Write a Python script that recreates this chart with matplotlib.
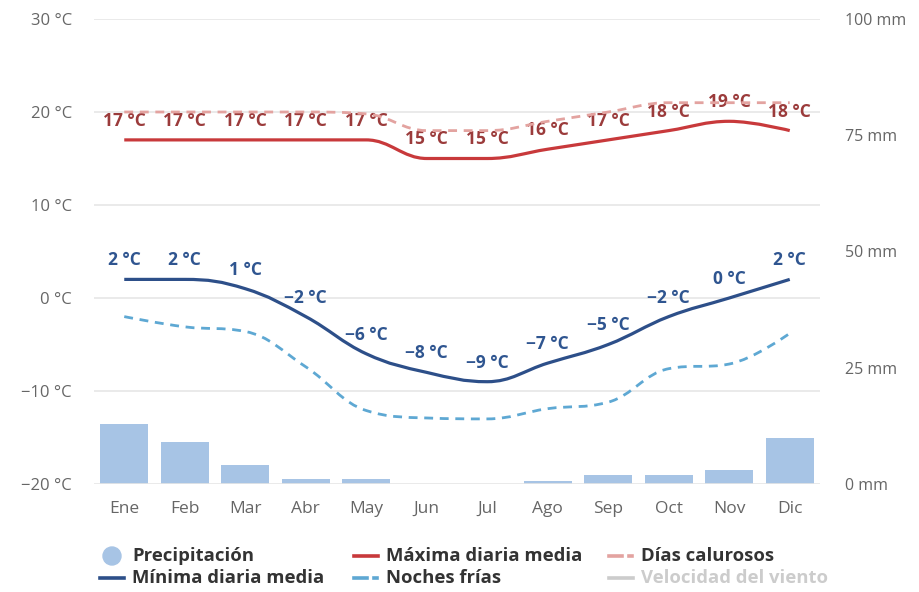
import numpy as np
import matplotlib.pyplot as plt
from matplotlib.path import Path
from matplotlib.patches import PathPatch, Ellipse
from matplotlib.lines import Line2D

plt.rcParams['font.family'] = ['Open Sans', 'DejaVu Sans']

meses = ["Ene", "Feb", "Mar", "Abr", "May", "Jun", "Jul", "Ago", "Sep", "Oct", "Nov", "Dic"]
maxima = [17, 17, 17, 17, 17, 15, 15, 16, 17, 18, 19, 18]
minima = [2, 2, 1, -2, -6, -8, -9, -7, -5, -2, 0, 2]
dias_calurosos = [20, 20, 20, 20, 19.8, 18, 18, 19, 20, 21, 21, 21]
noches_frias = [-2, -3.1, -3.6, -7.4, -12.1, -12.9, -13, -11.9, -11.2, -7.6, -7.1, -3.8]
precipitacion = [13, 9, 4, 1, 1, 0, 0, 0.7, 2, 2, 3, 10]

temp_ticks = [-20, -10, 0, 10, 20, 30]
mm_ticks = [0, 25, 50, 75, 100]

ROJO = "#c8393b"
ROJO_TXT = "#9b3b3b"
AZUL = "#2d4f89"
AZUL_TXT = "#2f5590"
CELESTE = "#5ea8d3"
ROSA = "#e3a3a0"
BARRA = "#a7c4e5"
GRIS = "#666666"


def spline_path(xs, ys, smoothing=1.5):
    # cubic bezier spline through every point (same control-point rule as Highcharts)
    xs = list(map(float, xs))
    ys = list(map(float, ys))
    n = len(xs)
    left = [None] * n
    right = [None] * n
    for i in range(1, n - 1):
        px, py = xs[i], ys[i]
        lx, ly = xs[i - 1], ys[i - 1]
        nx, ny = xs[i + 1], ys[i + 1]
        d = smoothing + 1
        lcx, lcy = (smoothing * px + lx) / d, (smoothing * py + ly) / d
        rcx, rcy = (smoothing * px + nx) / d, (smoothing * py + ny) / d
        corr = (rcy - lcy) * (rcx - px) / (rcx - lcx) + py - rcy
        lcy += corr
        rcy += corr
        if lcy > ly and lcy > py:
            lcy = max(ly, py)
            rcy = 2 * py - lcy
        elif lcy < ly and lcy < py:
            lcy = min(ly, py)
            rcy = 2 * py - lcy
        if rcy > ny and rcy > py:
            rcy = max(ny, py)
            lcy = 2 * py - rcy
        elif rcy < ny and rcy < py:
            rcy = min(ny, py)
            lcy = 2 * py - rcy
        left[i] = (lcx, lcy)
        right[i] = (rcx, rcy)
    verts = [(xs[0], ys[0])]
    codes = [Path.MOVETO]
    for i in range(1, n):
        c1 = right[i - 1] if right[i - 1] else (xs[i - 1], ys[i - 1])
        c2 = left[i] if left[i] else (xs[i], ys[i])
        verts += [c1, c2, (xs[i], ys[i])]
        codes += [Path.CURVE4] * 3
    return Path(verts, codes)


x = np.arange(len(meses))

fig = plt.figure(figsize=(9.2, 5.92), dpi=100)
ax = fig.add_axes([94 / 920, 1 - 484 / 592, 726 / 920, 465 / 592])
ax2 = ax.twinx()

# precipitation bars on the right (mm) axis
ax2.bar(x, precipitacion, width=0.79, color=BARRA, zorder=1)
ax2.set_ylim(0, 100)
ax2.set_yticks(mm_ticks)
ax2.set_yticklabels([f"{v} mm" for v in mm_ticks])
ax2.tick_params(axis="y", length=0, pad=18, labelsize=11.5, labelcolor=GRIS)
for s in ax2.spines.values():
    s.set_visible(False)

ax.set_zorder(ax2.get_zorder() + 1)
ax.patch.set_visible(False)

ax.set_xlim(-0.5, 11.5)
ax.set_ylim(-20, 30)
ax.set_yticks(temp_ticks)
ax.set_yticklabels([f"{v} °C".replace("-", "\u2212") for v in temp_ticks])
ax.set_xticks(x)
ax.set_xticklabels(meses)
ax.tick_params(axis="y", length=0, pad=16, labelsize=12, labelcolor=GRIS)
ax.tick_params(axis="x", length=0, pad=12, labelsize=12.5, labelcolor=GRIS)
for t in ax.get_yticks():
    ax.axhline(t, color="#e6e6e6", lw=1.2, zorder=0)
for s in ax.spines.values():
    s.set_visible(False)

# temperature curves
series = [
    (noches_frias, CELESTE, (0, (3.2, 2.4)), 2.0, 2),
    (minima, AZUL, "-", 2.3, 3),
    (maxima, ROJO, "-", 2.3, 3),
    (dias_calurosos, ROSA, (0, (3.2, 2.4)), 2.0, 5),
]
for vals, col, ls, lw, z in series:
    p = PathPatch(spline_path(x, vals), fill=False, edgecolor=col, lw=lw,
                  linestyle=ls, capstyle="butt", zorder=z)
    ax.add_patch(p)

# value labels above the max / min points
for xi, v in zip(x, maxima):
    ax.annotate(f"{v} °C", (xi, v), xytext=(0, 19), textcoords="offset pixels",
                ha="center", va="center", fontsize=12.5, fontweight="bold",
                color=ROJO_TXT, zorder=4)
for xi, v in zip(x, minima):
    ax.annotate(f"{v} °C".replace("-", "\u2212"), (xi, v), xytext=(0, 19),
                textcoords="offset pixels", ha="center", va="center",
                fontsize=12.5, fontweight="bold", color=AZUL_TXT, zorder=4)

# legend, three columns under the chart
def fx(px):
    return px / 920


def fy(py):
    return 1 - py / 592


entradas = [
    ("Precipitación", "dot", BARRA, 112, 556, "#333333"),
    ("Mínima diaria media", "line", AZUL, 112, 578, "#333333"),
    ("Máxima diaria media", "line", ROJO, 366, 556, "#333333"),
    ("Noches frías", "dash", CELESTE, 366, 578, "#333333"),
    ("Días calurosos", "dash", ROSA, 621, 556, "#333333"),
    ("Velocidad del viento", "line", "#cccccc", 621, 578, "#cccccc"),
]
for texto, tipo, col, cx, cy, tcol in entradas:
    if tipo == "dot":
        fig.patches.append(Ellipse((fx(cx), fy(cy)), 18 / 920, 18 / 592,
                                   transform=fig.transFigure, color=col, figure=fig))
    elif tipo == "line":
        fig.lines.append(Line2D([fx(cx - 12), fx(cx + 12)], [fy(cy), fy(cy)], color=col,
                                lw=2.6, transform=fig.transFigure, figure=fig))
    else:
        fig.lines.append(Line2D([fx(cx - 12), fx(cx + 1)], [fy(cy), fy(cy)], color=col,
                                lw=2.6, transform=fig.transFigure, figure=fig))
        fig.lines.append(Line2D([fx(cx + 8), fx(cx + 11)], [fy(cy), fy(cy)], color=col,
                                lw=2.6, transform=fig.transFigure, figure=fig))
    fig.text(fx(cx + 20), fy(cy), texto, ha="left", va="center", fontsize=13.3,
             fontweight="bold", color=tcol)

fig.savefig("out.png", dpi=100, facecolor="white")
